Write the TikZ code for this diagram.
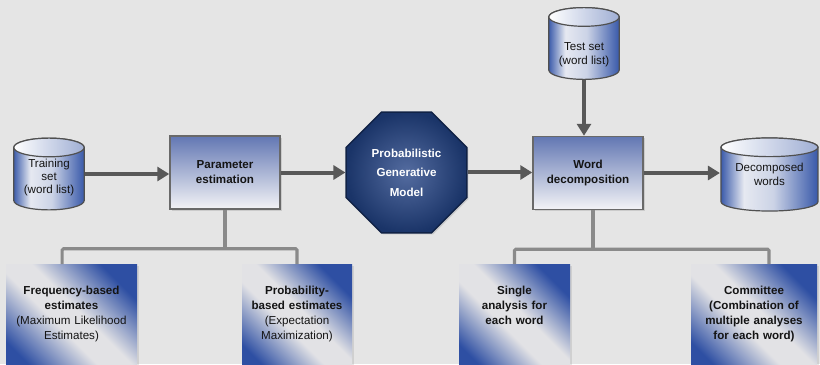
\documentclass[tikz,border=0pt]{standalone}
\usepackage{fontspec}
\setmainfont{Liberation Sans}
\usetikzlibrary{positioning}
\usetikzlibrary{calc}
\usetikzlibrary{arrows.meta}
\usetikzlibrary{shapes.geometric}
\usetikzlibrary{shadows}
\definecolor{bg}{RGB}{229,229,229}
\definecolor{boxblue}{RGB}{98,119,179}
\definecolor{boxpale}{RGB}{243,243,246}
\definecolor{boxline}{RGB}{105,105,105}
\definecolor{navy}{RGB}{26,52,104}
\definecolor{navylight}{RGB}{84,108,160}
\definecolor{navyline}{RGB}{16,34,70}
\definecolor{cylblue}{RGB}{53,86,168}
\definecolor{cylpale}{RGB}{230,233,241}
\definecolor{cylline}{RGB}{80,80,80}
\definecolor{arrowgray}{RGB}{88,88,88}
\definecolor{treegray}{RGB}{138,138,138}
\definecolor{cornerblue}{RGB}{46,79,163}
\definecolor{cornerpale}{RGB}{226,226,229}
\pgfdeclarehorizontalshading{cylbody}{100bp}{color(0bp)=(cylblue); color(25bp)=(cylblue); color(37bp)=(cylpale); color(52bp)=(cylpale!85!cylblue); color(75bp)=(cylblue); color(100bp)=(cylblue)}
\pgfdeclarehorizontalshading{cyltop}{100bp}{color(0bp)=(white); color(25bp)=(white); color(75bp)=(cylblue!40!cylpale); color(100bp)=(cylblue!40!cylpale)}
\pgfdeclarehorizontalshading{corner}{100bp}{color(0bp)=(cornerblue); color(25bp)=(cornerblue); color(45bp)=(cornerpale); color(55bp)=(cornerpale); color(75bp)=(cornerblue); color(100bp)=(cornerblue)}
\newcommand{\dfont}{\fontsize{8.7}{10}\selectfont}
\newcommand{\bfont}{\fontsize{8.7}{11.25}\selectfont}

\begin{document}
\begin{tikzpicture}[x=0.75pt, y=-0.75pt,
    every node/.style={font=\dfont, align=center, text=black!92},
    db/.style 2 args={minimum width=#1, minimum height=#2, inner sep=0pt, path picture={
        \shade[shading=cylbody, draw=cylline, line width=0.9pt]
          let \p1=(path picture bounding box.south west), \p2=(path picture bounding box.north east) in
          (\x1+0.6pt,\y2-7.6pt) -- (\x1+0.6pt,\y1+7.6pt)
          arc[start angle=180, end angle=360, x radius={(\x2-\x1)/2-0.6pt}, y radius=7pt]
          -- (\x2-0.6pt,\y2-7.6pt)
          arc[start angle=0, end angle=180, x radius={(\x2-\x1)/2-0.6pt}, y radius=7pt] -- cycle;
        \shade[shading=cyltop, draw=cylline, line width=0.9pt]
          let \p1=(path picture bounding box.south west), \p2=(path picture bounding box.north east) in
          ({(\x1+\x2)/2},\y2-7.6pt) ellipse[x radius={(\x2-\x1)/2-0.6pt}, y radius=7pt];
      }},
    stepbox/.style={draw=boxline, line width=1.1pt, top color=boxblue, bottom color=boxpale,
      minimum width=82.5pt, minimum height=54.75pt, font=\bfont\bfseries,
      drop shadow={shadow xshift=1.2pt, shadow yshift=-1.2pt, opacity=0.25}},
    model/.style={regular polygon, regular polygon sides=8, minimum size=98pt, inner sep=0pt,
      draw=navyline, line width=1.1pt, inner color=navylight, outer color=navy,
      text=white, font=\fontsize{8.7}{14.6}\selectfont\bfseries,
      drop shadow={shadow xshift=1.2pt, shadow yshift=-1.2pt, opacity=0.25}},
    leaf/.style={anchor=north, text width=#1, inner xsep=3pt, inner ysep=16.5pt, text depth=46pt,
      shade, shading=corner, shading angle=45, font=\bfont,
      drop shadow={shadow xshift=1.5pt, shadow yshift=-1.5pt, opacity=0.2}},
    flow/.style={draw=arrowgray, line width=3pt, -{Triangle[length=9pt, width=10.5pt]}},
    tree/.style={draw=treegray, line width=2.3pt, rounded corners=1pt}]

    \path[use as bounding box, fill=bg] (0,0) rectangle (820,364);

    % main chain
    \node[db={54pt}{55pt}] (train) at (49,174) {\rule{0pt}{11.7pt}Training\\set\\(word list)};
    \node[stepbox] (param) at (225,172.5) {Parameter\\estimation};
    \node[model] (pgm) at (406.5,172.5) {Probabilistic\\Generative\\Model};
    \node[stepbox] (decomp) at (588,173) {Word\\decomposition};
    \node[db={54pt}{55pt}] (test) at (584,43.5) {\rule{0pt}{23pt}Test set\\(word list)};
    \node[db={74pt}{56pt}] (words) at (769.5,174.5) {Decomposed\\words};

    \draw[flow] (train.east) -- (train.east -| param.west);
    \draw[flow] (param.east) -- (param.east -| pgm.west);
    \draw[flow] (pgm.east) -- (pgm.east -| decomp.west);
    \draw[flow] (test.south) -- (test.south |- decomp.north);
    \draw[flow] (decomp.east) -- (decomp.east -| words.west);

    % variants
    \node[leaf=92.25pt] (freq) at (71.5,264) {\textbf{Frequency-based}\\\textbf{estimates}\\(Maximum Likelihood\\Estimates)};
    \node[leaf=76.5pt] (prob) at (297,264) {\textbf{Probability-}\\\textbf{based estimates}\\(Expectation\\Maximization)};
    \node[leaf=77.25pt] (single) at (514.5,264) {\textbf{Single}\\\textbf{analysis for}\\\textbf{each word}};
    \node[leaf=88.5pt] (comm) at (754,264) {\textbf{Committee}\\\textbf{(Combination of}\\\textbf{multiple analyses}\\\textbf{for each word)}};

    \coordinate (pj) at ($(param.south)+(0,39)$);
    \coordinate (dj) at ($(decomp.south)+(5,39)$);
    \draw[tree] (param.south) -- (pj);
    \draw[tree] ([xshift=-7pt]freq.north) |- (pj) -| (prob.north);
    \draw[tree] ([xshift=3.75pt]decomp.south) -- (dj);
    \draw[tree] (single.north) |- (dj) -| ([xshift=11.25pt]comm.north);
\end{tikzpicture}
\end{document}
